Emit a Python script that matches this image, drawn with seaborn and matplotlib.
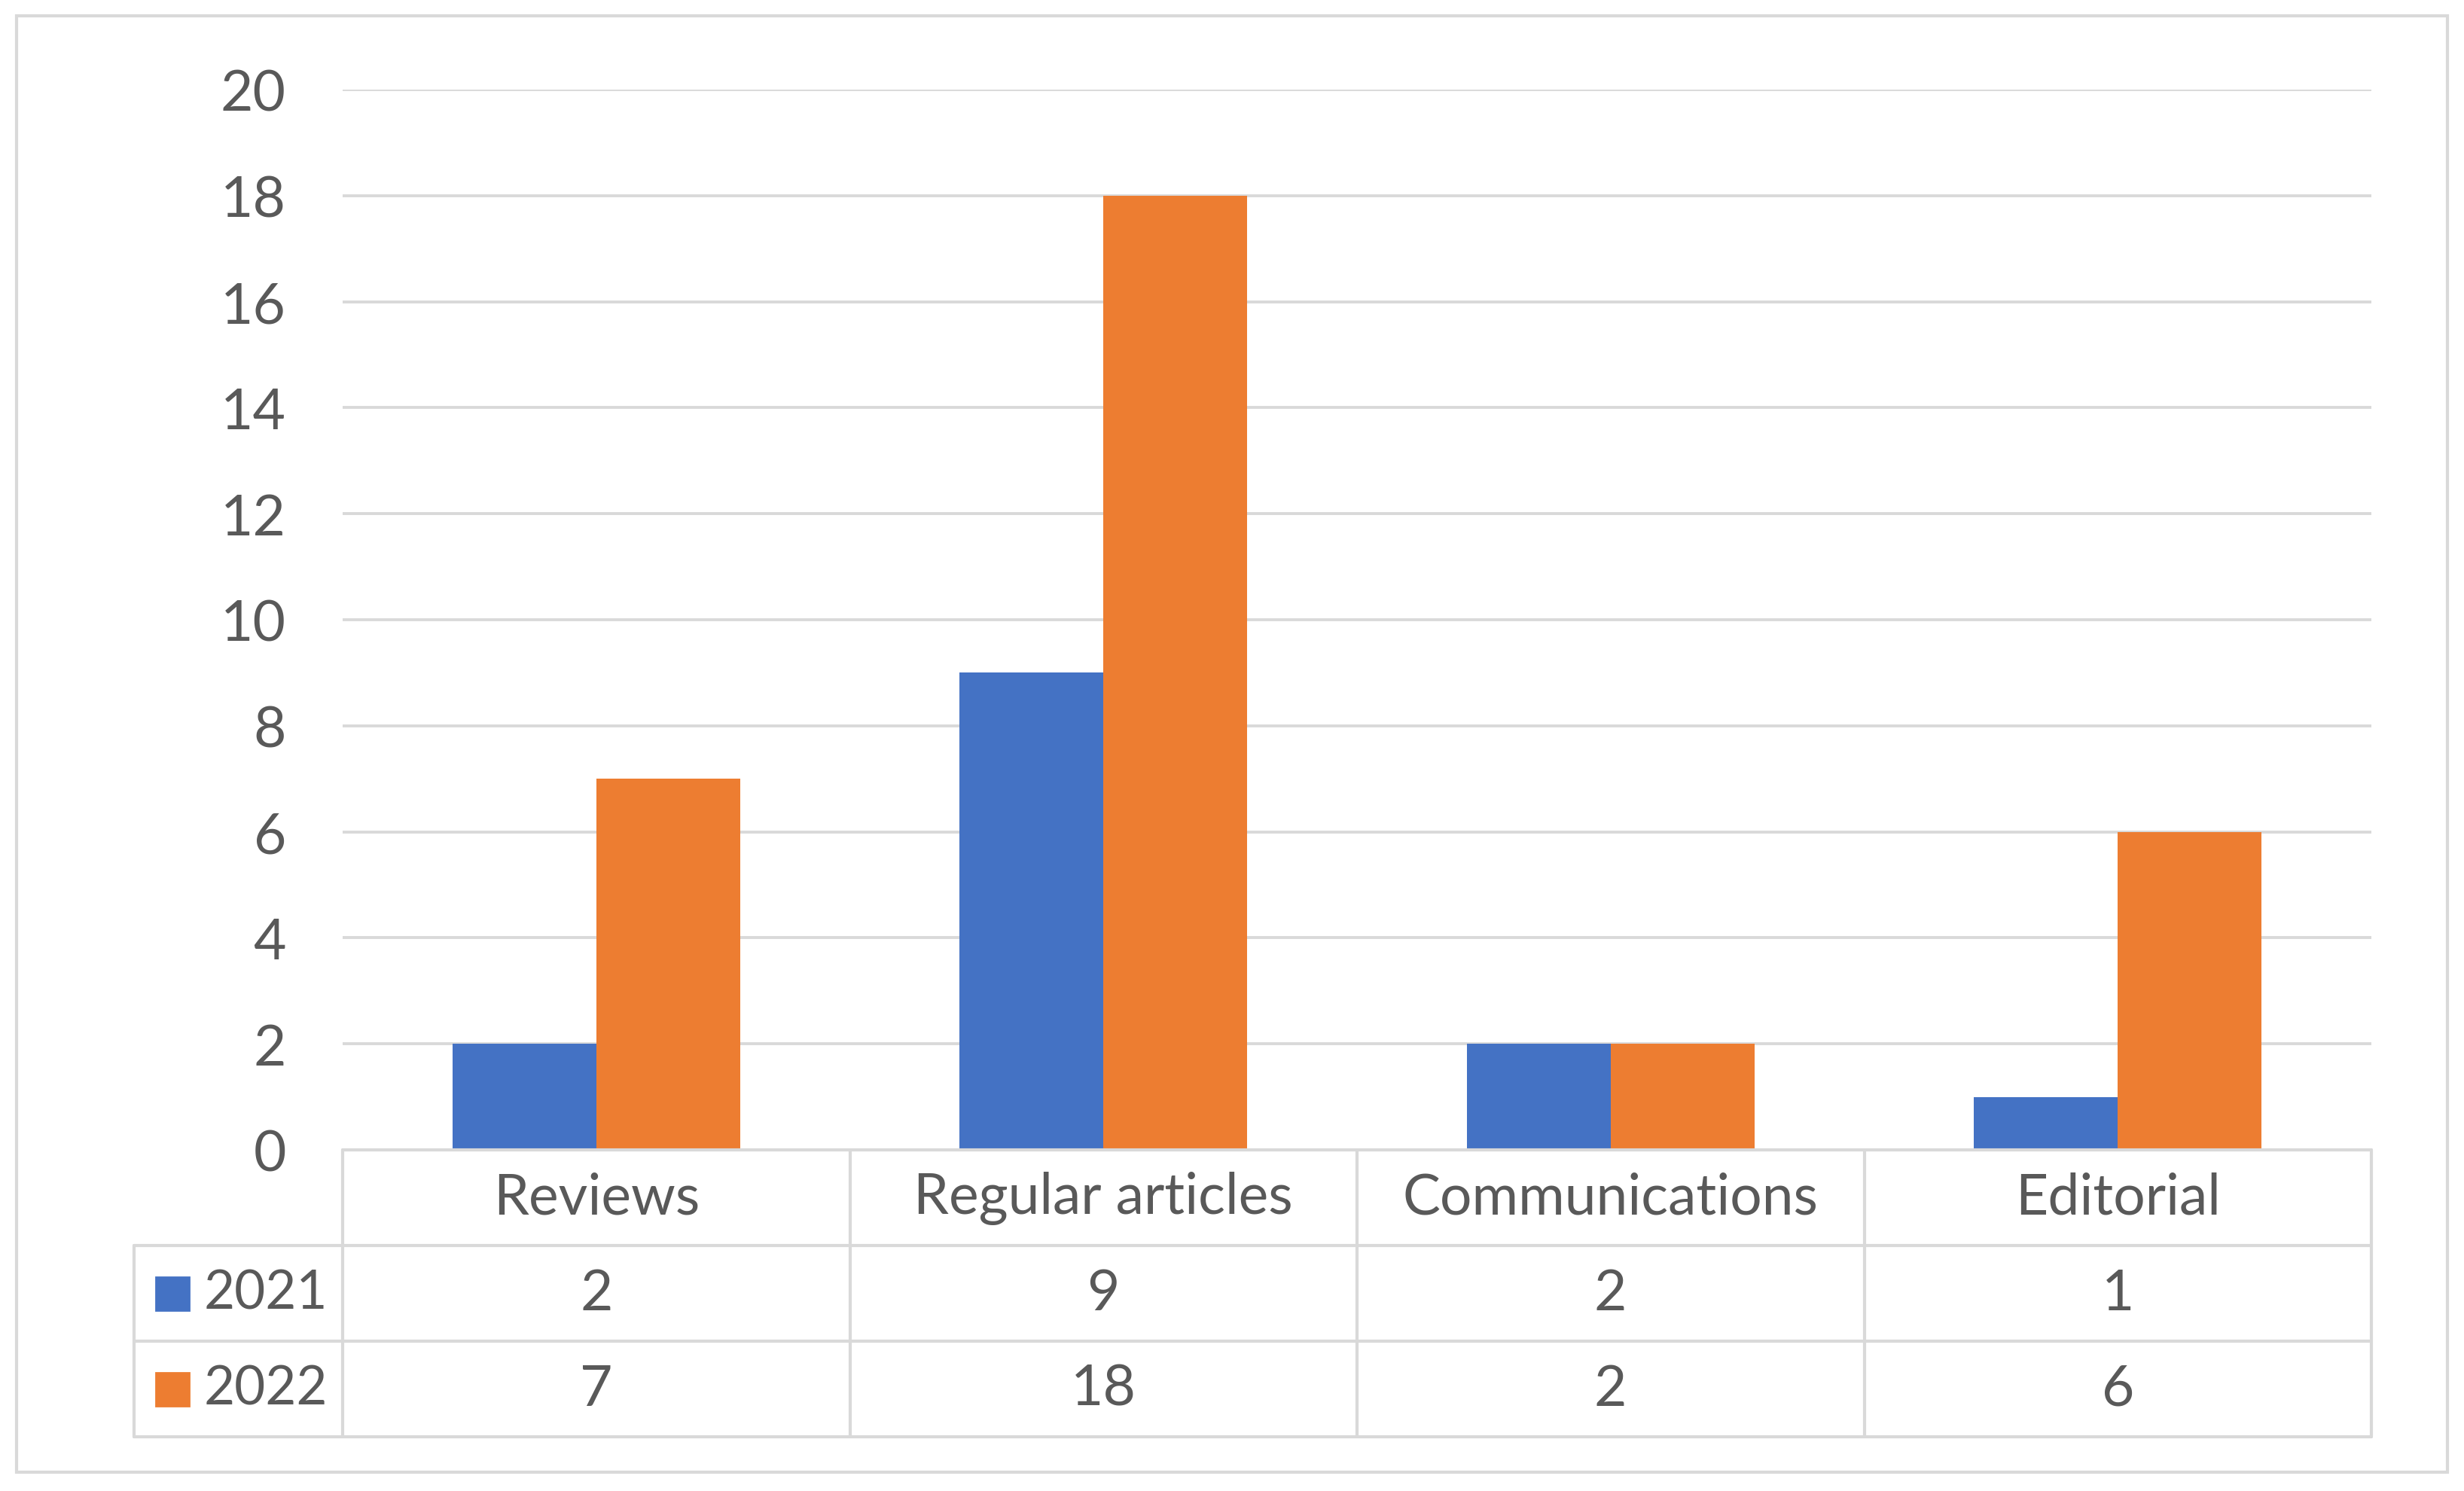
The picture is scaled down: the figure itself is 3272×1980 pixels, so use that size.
import numpy as np
import pandas as pd
import seaborn as sns
import matplotlib
matplotlib.use("Agg")
import matplotlib.pyplot as plt
from matplotlib.patches import Rectangle

# data
categories = ["Reviews", "Regular articles", "Communications", "Editorial"]
years = ["2021", "2022"]
counts_2021 = [2, 9, 2, 1]
counts_2022 = [7, 18, 2, 6]
yticks = list(range(0, 21, 2))

blue = "#4472C4"
orange = "#ED7D31"
grid_col = "#D9D9D9"
text_col = "#595959"

sns.set_style("white")
plt.rcParams["font.family"] = ["Lato", "DejaVu Sans"]

df = pd.DataFrame({
    "category": categories * 2,
    "year": [years[0]] * 4 + [years[1]] * 4,
    "count": counts_2021 + counts_2022,
})

W, H = 3272, 1981
fig = plt.figure(figsize=(W / 200, H / 200), dpi=200)

# pixel layout of the original
left, right = 455, 3149
top, zero = 120, 1528
tab_left, tab_bottom = 178, 1909

ax = fig.add_axes([left / W, 1 - zero / H, (right - left) / W, (zero - top) / H])
sns.barplot(data=df, x="category", y="count", hue="year", order=categories,
            hue_order=years, palette=[blue, orange], width=0.567, gap=0,
            saturation=1, legend=False, ax=ax, linewidth=0)
ax.set_ylim(0, 20)
ax.set_xlim(-0.5, len(categories) - 0.5)
ax.set_yticks(yticks)
ax.set_yticklabels([str(t) for t in yticks], fontsize=27, color=text_col)
ax.yaxis.grid(True, color=grid_col, linewidth=1.4)
ax.set_axisbelow(True)
ax.tick_params(axis="y", length=0, pad=27)
ax.tick_params(axis="x", length=0, labelbottom=False)
ax.set_xlabel("")
ax.set_ylabel("")
for s in ax.spines.values():
    s.set_visible(False)

# data table under the plot
cat_w = (right - left) / len(categories)
leg_w = (left - tab_left) / cat_w
x0 = -0.5 - leg_w
xr = len(categories) - 0.5
tax = fig.add_axes([tab_left / W, 1 - tab_bottom / H, (right - tab_left) / W, (tab_bottom - zero) / H])
tax.set_xlim(x0, xr)
tax.set_ylim(3, 0)
tax.axis("off")
lw = 1.5
tax.plot([-0.5, xr], [0, 0], color=grid_col, lw=lw, clip_on=False)
for yy in [1, 2, 3]:
    tax.plot([x0, xr], [yy, yy], color=grid_col, lw=lw, clip_on=False)
tax.plot([x0, x0], [1, 3], color=grid_col, lw=lw, clip_on=False)
for xx in np.arange(-0.5, xr + 0.01, 1):
    tax.plot([xx, xx], [0, 3], color=grid_col, lw=lw, clip_on=False)

for i, c in enumerate(categories):
    tax.text(i, 0.5, c, ha="center", va="center", fontsize=27, color=text_col)
    tax.text(i, 1.5, str(counts_2021[i]), ha="center", va="center", fontsize=27, color=text_col)
    tax.text(i, 2.5, str(counts_2022[i]), ha="center", va="center", fontsize=27, color=text_col)

for r, (yr, col) in enumerate(zip(years, [blue, orange])):
    sq_x = x0 + (229 - tab_left) / cat_w
    tax.plot([sq_x], [1.5 + r], marker="s", markersize=16, color=col, clip_on=False)
    tax.text(x0 + (271 - tab_left) / cat_w, 1.5 + r, yr, ha="left", va="center",
             fontsize=25.5, color=text_col)

# outer chart border
fig.patches.append(Rectangle((22 / W, 1 - 1956 / H), (3250 - 22) / W, (1956 - 22) / H,
                             transform=fig.transFigure, fill=False,
                             edgecolor=grid_col, linewidth=1.5))

fig.savefig("out.png", dpi=200, facecolor="white")
